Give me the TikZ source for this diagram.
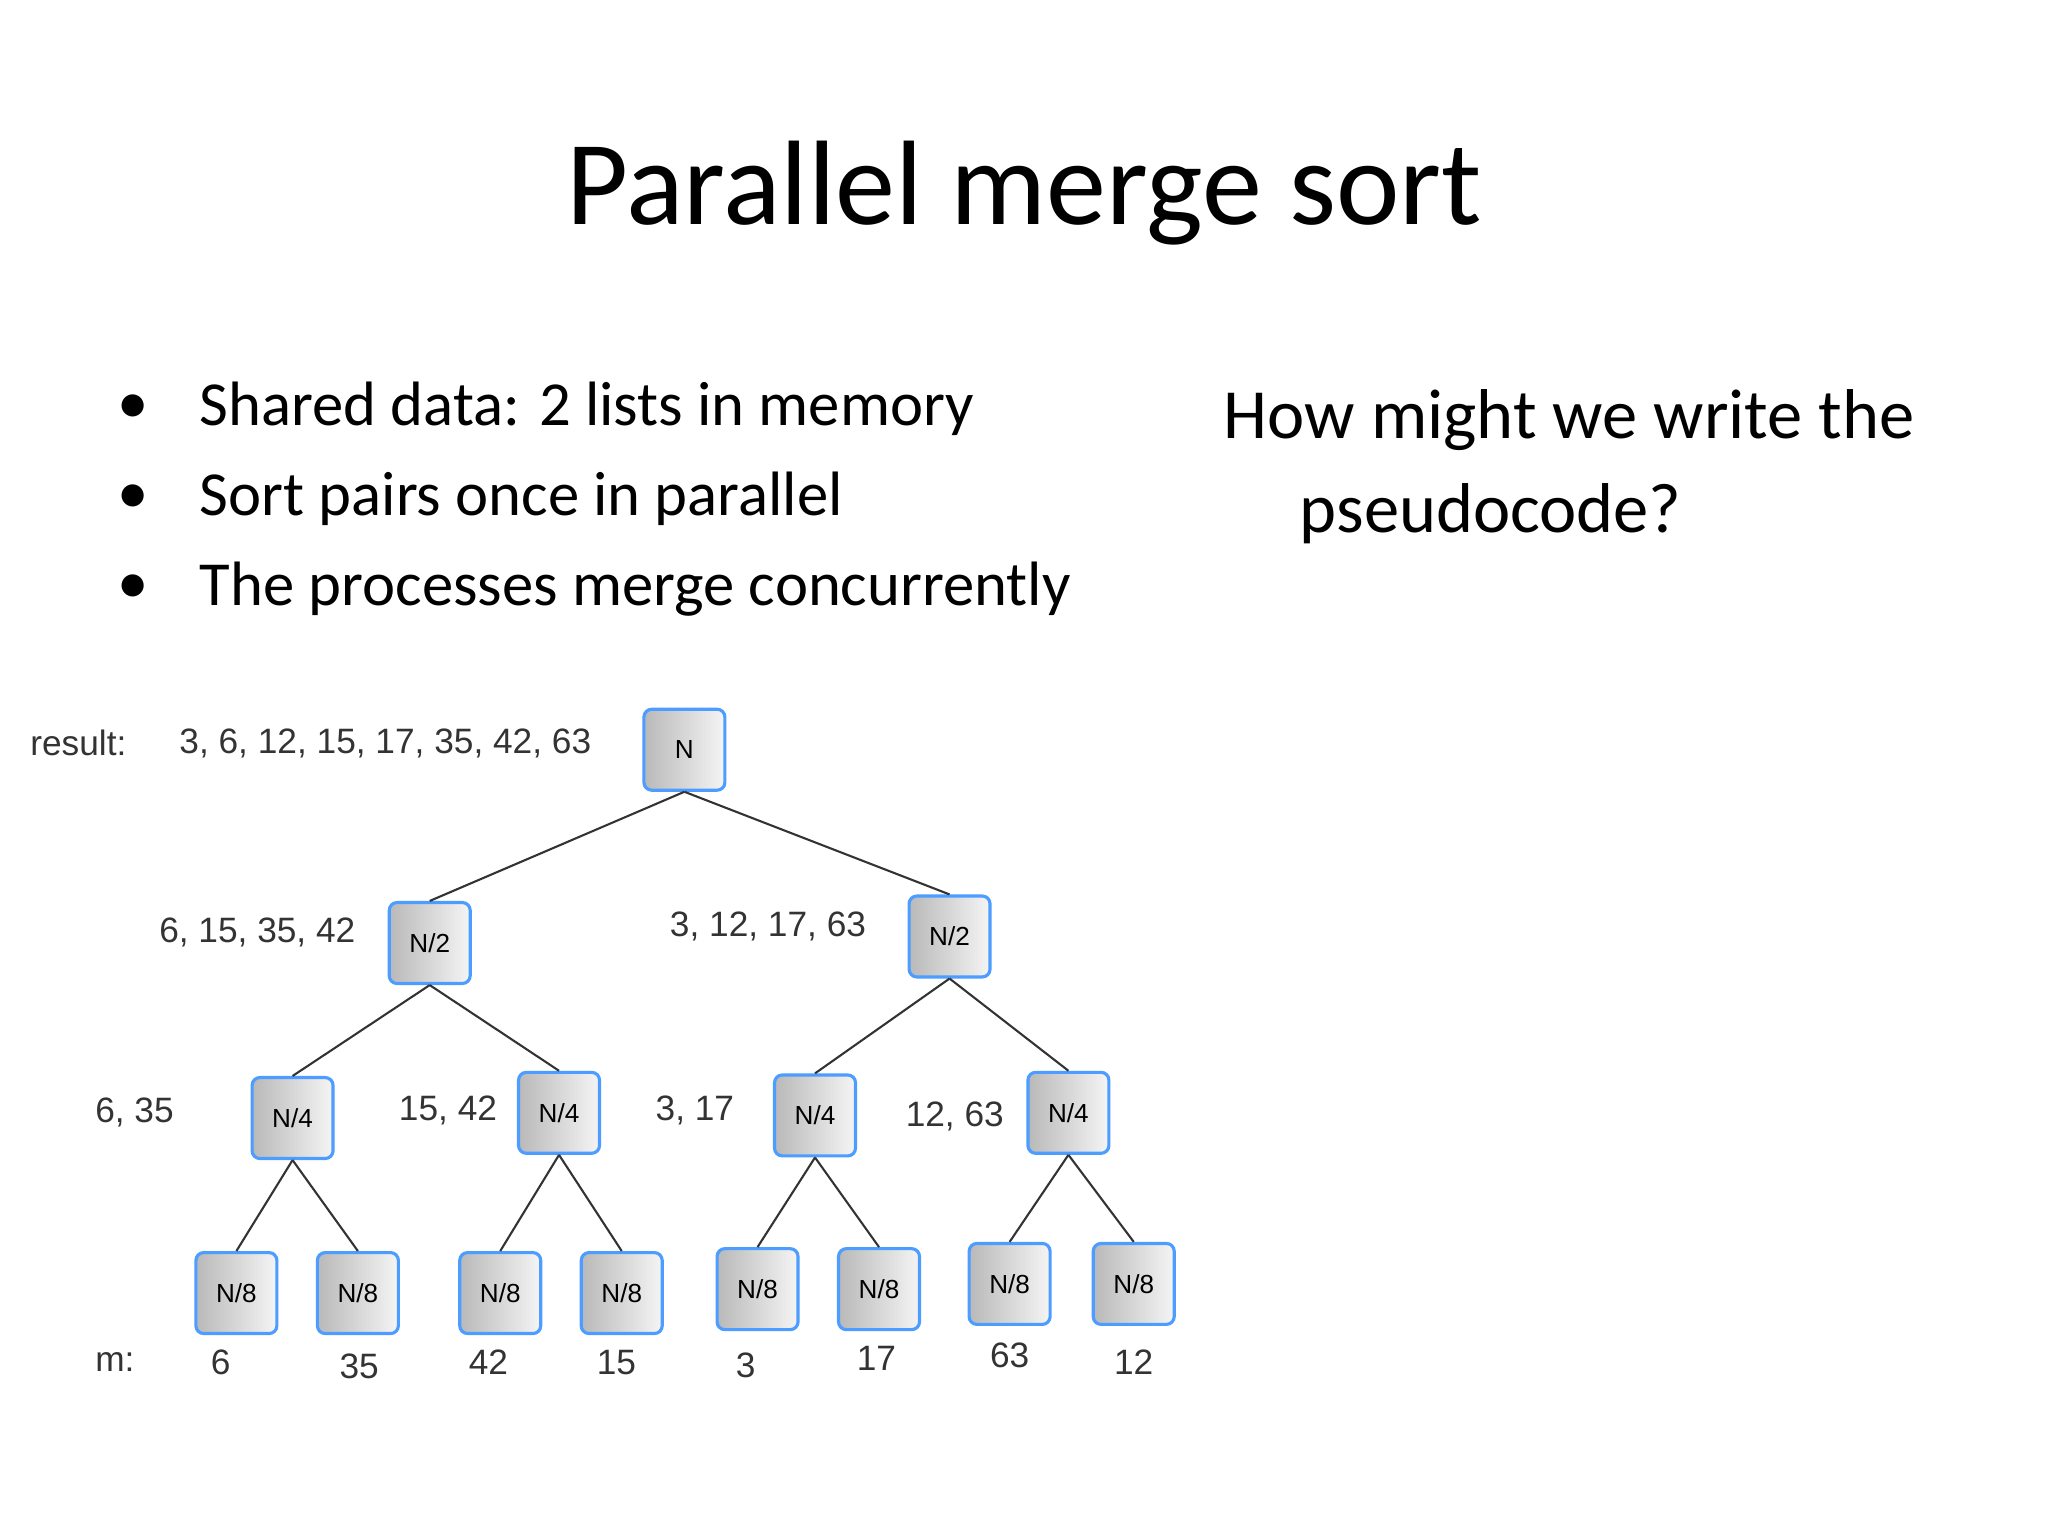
\documentclass[tikz,border=0pt]{standalone}
\usepackage{fontspec}
\setmainfont{Carlito}
\newfontfamily\arial{Liberation Sans}
\begin{document}
\begin{tikzpicture}[x=0.5pt,y=-0.5pt,
 box/.style={draw=blue!55!cyan!70!white,line width=1.2pt,rounded corners=3pt,minimum width=31pt,minimum height=31pt,inner sep=0pt,left color=gray!55,right color=gray!8,font=\arial\fontsize{10}{12}\selectfont},
 lab/.style={font=\arial\fontsize{13.5}{16}\selectfont,text=black!80},
 edge/.style={draw=black!80,line width=0.8pt}]
\useasboundingbox (0,0) rectangle (1568,1176);
\node[font=\fontsize{46}{52}\selectfont] (title) at (784,148) {Parallel merge sort};
\foreach \y/\t [count=\i] in {313/Shared data: 2 lists in memory,382/Sort pairs once in parallel,451/The processes merge concurrently}{
 \node[font=\fontsize{24}{28}\selectfont] (d\i) at (102,\y) {\textbullet};
 \node[anchor=west,font=\fontsize{24}{28}\selectfont] (b\i) at (146,\y) {\t};}
\node[anchor=west,font=\fontsize{27}{32}\selectfont] (q1) at (930,322) {How might we write the};
\node[anchor=west,font=\fontsize{27}{32}\selectfont] (q2) at (988,393) {pseudocode?};
\node[box] (n) at (524,574) {N};
\node[box] (l) at (329,722) {N/2};
\node[box] (r) at (727,717) {N/2};
\node[box] (a1) at (224,856) {N/4};
\node[box] (a2) at (428,852) {N/4};
\node[box] (a3) at (624,854) {N/4};
\node[box] (a4) at (818,852) {N/4};
\foreach \x/\y [count=\i] in {181/990,274/990,383/990,476/990,580/987,673/987,773/983,868/983}
 \node[box] (e\i) at (\x,\y) {N/8};
\foreach \p/\c in {n/l,n/r,l/a1,l/a2,r/a3,r/a4,a1/e1,a1/e2,a2/e3,a2/e4,a3/e5,a3/e6,a4/e7,a4/e8}
 \draw[edge] (\p.south) -- (\c.north);
\node[lab] (rl) at (60,569) {result:};
\node[lab] (rv) at (295,569) {3, 6, 12, 15, 17, 35, 42, 63};
\node[lab] (t1) at (197,714) {6, 15, 35, 42};
\node[lab] (t2) at (588,709) {3, 12, 17, 63};
\node[lab] (u1) at (103,852) {6, 35};
\node[lab] (u2) at (343,850) {15, 42};
\node[lab] (u3) at (532,850) {3, 17};
\node[lab] (u4) at (731,855) {12, 63};
\node[lab] (m) at (88,1043) {m:};
\foreach \x/\y/\v [count=\i] in {169/1043/6,275/1046/35,374/1043/42,472/1043/15,571/1045/3,671/1040/17,773/1038/63,868/1043/12}
 \node[lab] (v\i) at (\x,\y) {\v};
\end{tikzpicture}
\end{document}
